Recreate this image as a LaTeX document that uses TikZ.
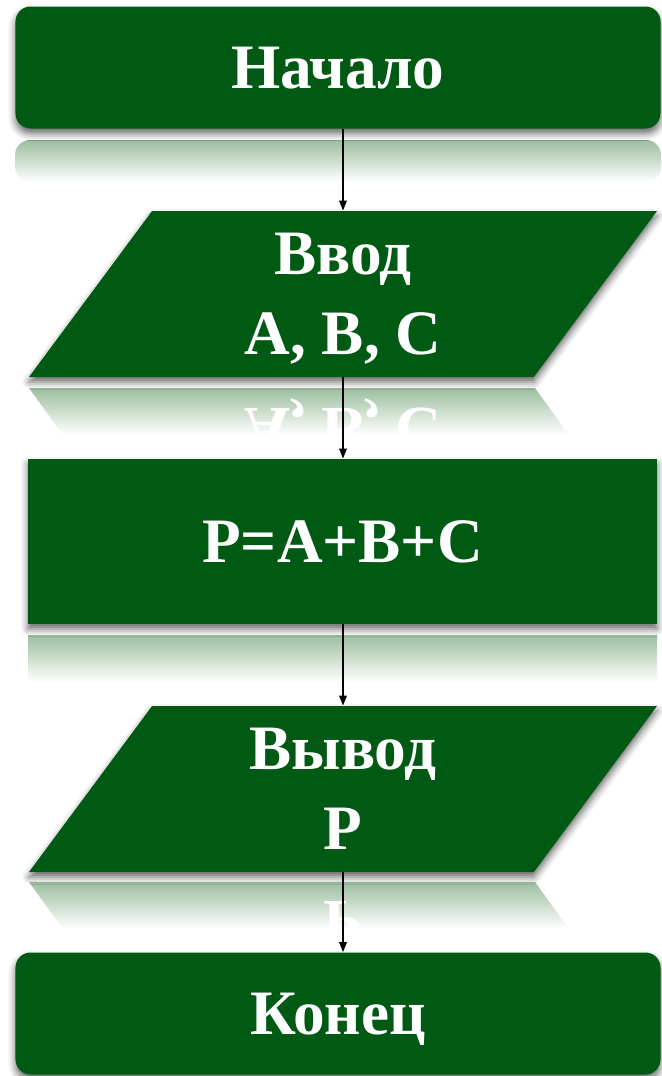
\documentclass[tikz,border=0pt]{standalone}
\usepackage{fontspec}
\setmainfont{Liberation Serif}
\usetikzlibrary{arrows.meta, positioning, shapes.geometric, shadows.blur}
\definecolor{dgreen}{RGB}{1,90,20}
\definecolor{rgreen}{RGB}{155,190,158}

\begin{document}
\begin{tikzpicture}[x=0.2mm, y=-0.2mm,
    blk/.style={fill=dgreen, text=white, font=\bfseries\fontsize{36}{45.5}\selectfont,
      align=center, inner sep=0pt, text depth=0pt,
      blur shadow={shadow xshift=0mm, shadow yshift=-1mm, shadow blur radius=1.4mm, shadow opacity=60}},
    term/.style={blk, rectangle, rounded corners=3mm, minimum width=129mm, minimum height=24.4mm},
    io/.style={blk, trapezium, trapezium left angle=44.6, trapezium right angle=135.4,
      trapezium stretches body, minimum width=125.6mm, minimum height=33.2mm},
    proc/.style={blk, rectangle, minimum width=125.8mm, minimum height=33mm},
    refl/.style={top color=rgreen, bottom color=white},
    mirr/.style={text=white, font=\bfseries\fontsize{36}{45.5}\selectfont,
      anchor=base, inner sep=0pt, yscale=-1, transform shape},
    arr/.style={-{Triangle[length=2mm, width=1.5mm]}, line width=0.35mm}]

    \useasboundingbox (0,0) rectangle (662,1076);

    % reflections
    \shade[refl, rounded corners=3mm] (15,140) rectangle (661,182);
    \shade[refl] (29,388) -- (535,388) -- (569,435) -- (63,435) -- cycle;
    \shade[refl] (28,635) rectangle (657,682);
    \shade[refl] (29,882) -- (535,882) -- (569,929) -- (63,929) -- cycle;
    \node[mirr] (inpr) at (343,408) {A, B, C};
    \node[mirr] (outr) at (343,901) {P};

    % blocks
    \node[term] (start) at (338,67.5) {Начало};
    \node[io] (inp) at (343,294) {Ввод\\A, B, C};
    \node[proc] (sum) at (342.5,541.5) {P=A+B+C};
    \node[io] (outp) at (343,789) {Вывод\\P};
    \node[term] (stop) at (338,1013.5) {Конец};

    \draw[arr] (start.south -| inp.north) -- (inp.north);
    \draw[arr] (inp.south) -- (inp.south |- sum.north);
    \draw[arr] (sum.south -| outp.north) -- (outp.north);
    \draw[arr] (outp.south) -- (outp.south |- stop.north);
\end{tikzpicture}
\end{document}
